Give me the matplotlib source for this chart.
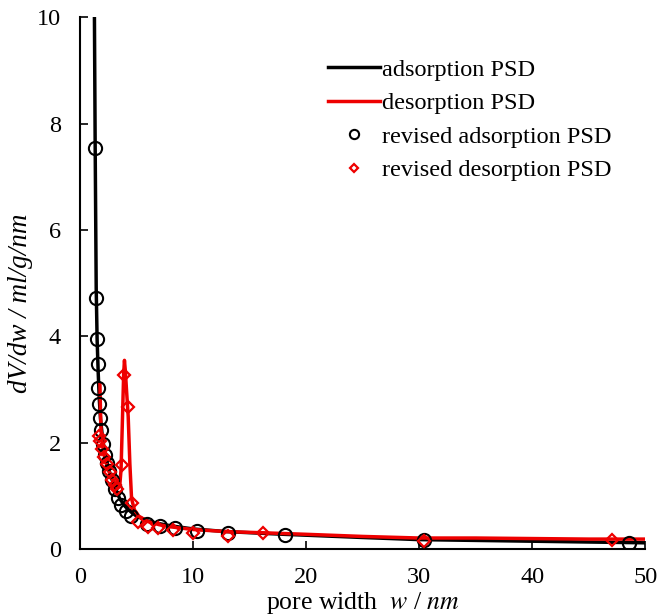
import numpy as np
import matplotlib
matplotlib.use("Agg")
import matplotlib.pyplot as plt

# values
ads_w = [1.25, 1.33, 1.42, 1.5, 1.6, 1.7, 1.8, 2.0, 2.2, 2.5, 2.8, 3.1, 3.5, 4.0,
         4.5, 5.0, 6.0, 7.0, 8.0, 10.0, 13.0, 18.0, 25.0, 30.0, 40.0, 50.0]
ads_psd = [10.5, 7.54, 4.9, 3.95, 3.3, 2.8, 2.45, 2.05, 1.8, 1.52, 1.32, 1.15, 0.95, 0.8,
           0.7, 0.62, 0.53, 0.48, 0.44, 0.38, 0.33, 0.28, 0.22, 0.18, 0.15, 0.12]

des_w = [1.75, 1.8, 1.85, 1.95, 2.1, 2.3, 2.6, 3.0, 3.3, 3.5, 3.62, 3.75, 3.85, 3.92,
         4.0, 4.1, 4.25, 4.4, 4.55, 4.8, 5.2, 6.0, 7.0, 8.0, 10.0, 13.0, 16.0, 20.0,
         25.0, 30.0, 35.0, 40.0, 45.0, 50.0]
des_psd = [3.1, 2.6, 2.25, 1.98, 1.8, 1.63, 1.43, 1.24, 1.14, 1.18, 1.5, 2.5, 3.3, 3.55,
           3.35, 3.0, 2.5, 1.6, 0.95, 0.74, 0.62, 0.52, 0.46, 0.42, 0.37, 0.33, 0.31, 0.28,
           0.24, 0.21, 0.21, 0.2, 0.19, 0.19]

rev_ads_w = [1.33, 1.42, 1.48, 1.55, 1.6, 1.68, 1.77, 1.86, 2.04, 2.2, 2.4, 2.57, 2.83,
             3.1, 3.36, 3.63, 4.07, 4.51, 5.9, 7.1, 8.4, 10.3, 13.1, 18.1, 30.4, 48.6]
rev_ads_psd = [7.54, 4.72, 3.95, 3.48, 3.03, 2.73, 2.46, 2.24, 1.97, 1.77, 1.62, 1.47, 1.30,
               1.13, 0.96, 0.83, 0.71, 0.62, 0.47, 0.43, 0.40, 0.34, 0.30, 0.26, 0.17, 0.11]

rev_des_w = [1.65, 1.8, 1.95, 2.15, 2.35, 2.6, 2.85, 3.1, 3.3, 3.7, 3.85, 4.25, 4.6,
             5.1, 6.0, 6.9, 8.2, 10.0, 13.1, 16.2, 30.4, 47.1]
rev_des_psd = [2.12, 2.03, 1.88, 1.74, 1.6, 1.45, 1.3, 1.2, 1.13, 1.58, 3.27, 2.67, 0.86,
               0.51, 0.42, 0.39, 0.36, 0.31, 0.24, 0.31, 0.15, 0.17]

plt.rcParams["font.family"] = ["Liberation Serif", "DejaVu Serif"]
plt.rcParams["mathtext.fontset"] = "stix"

fig = plt.figure(figsize=(6.57, 6.15), dpi=100)
ax = fig.add_axes([0.122, 0.107, 0.860, 0.865])

ax.plot(ads_w, ads_psd, color="black", lw=2.5, label="adsorption PSD", zorder=2)
ax.plot(des_w, des_psd, color="#ee0000", lw=2.5, label="desorption PSD", zorder=3)
ax.plot(rev_ads_w, rev_ads_psd, ls="none", marker="o", ms=9.5, mfc="none",
        mec="black", mew=1.5, label="revised adsorption PSD", zorder=4)
ax.plot(rev_des_w, rev_des_psd, ls="none", marker="D", ms=6.5, mfc="none",
        mec="#ee0000", mew=1.6, label="revised desorption PSD", zorder=5)

ax.set_xlim(0, 50)
ax.set_ylim(0, 10)
ax.set_xticks(np.arange(0, 51, 10))
ax.set_yticks(np.arange(0, 11, 2))
ax.tick_params(direction="in", length=6, width=1.2, labelsize=17.5)
ax.tick_params(axis="x", pad=13)
ax.tick_params(axis="y", pad=14)
ax.spines["top"].set_visible(False)
ax.spines["right"].set_visible(False)
for s in ("left", "bottom"):
    ax.spines[s].set_linewidth(1.5)

ax.set_xlabel(r"pore width  $\mathit{w}$ / $\mathit{nm}$", fontsize=18.5, labelpad=1)
ax.set_ylabel("dV/dw / ml/g/nm", fontsize=19.5, style="italic")
ax.yaxis.set_label_coords(-0.083, 0.462)

leg = ax.legend(loc="upper left", bbox_to_anchor=(0.439, 0.922), frameon=False,
                fontsize=17.5, handlelength=2.14, handletextpad=0.08,
                labelspacing=0.47, markerscale=0.7, borderpad=0, borderaxespad=0)

fig.savefig("out.png", dpi=100)
